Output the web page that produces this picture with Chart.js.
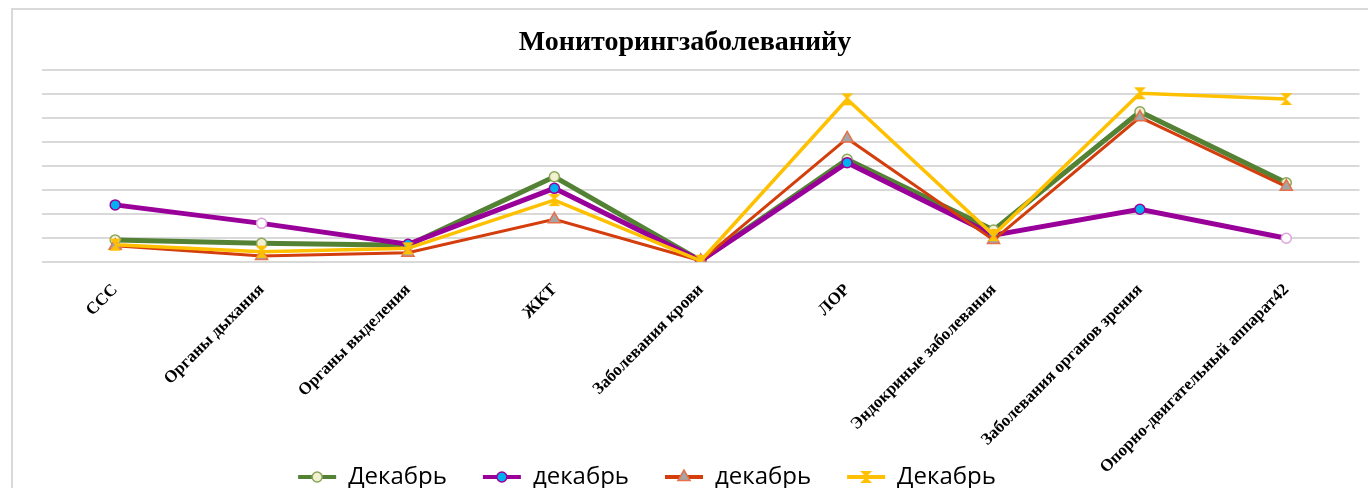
<!DOCTYPE html>
<html>
<head>
<meta charset="utf-8">
<script src="https://cdn.jsdelivr.net/npm/chart.js@4.4.1/dist/chart.umd.min.js"></script>
<style>
    html, body { margin: 0; padding: 0; overflow: hidden; background: #fff; }
    #wrap { position: relative; width: 1368px; height: 488px; overflow: hidden; }
    #frame { position: absolute; left: 11px; top: 8px; width: 1400px; height: 520px;
             border-left: 2px solid #d9d9d9; border-top: 2px solid #d9d9d9; }
    #diseaseChart { position: absolute; left: 0; top: 0; }
</style>
</head>
<body>
<div id="wrap">
    <div id="frame"></div>
    <canvas id="diseaseChart" width="1368" height="562"></canvas>
</div>
<script>
const categories = [
    'ССС', 'Органы дыхания', 'Органы выделения', 'ЖКТ', 'Заболевания крови',
    'ЛОР', 'Эндокриные заболевания', 'Заболевания органов зрения', 'Опорно-двигательный аппарат42'
];

// four series, values (one grid step = 1)
const greenSeries  = [0.92, 0.78, 0.70, 3.55, 0.06, 4.28, 1.33, 6.26, 3.30];
const purpleSeries = [2.38, 1.61, 0.74, 3.07, 0.05, 4.14, 1.12, 2.20, 0.99];
const redSeries    = [0.68, 0.25, 0.39, 1.78, 0.05, 5.15, 0.92, 6.03, 3.14];
const yellowSeries = [0.72, 0.43, 0.57, 2.58, 0.05, 6.78, 1.12, 7.03, 6.79];

const seriesNames = ['Декабрь', 'декабрь', 'декабрь', 'Декабрь'];

// hourglass marker for the yellow series
function makeHourglass(color) {
    const c = document.createElement('canvas');
    c.width = 14;
    c.height = 14;
    const g = c.getContext('2d');
    g.fillStyle = color;
    g.beginPath();
    g.moveTo(1, 1); g.lineTo(13, 1); g.lineTo(7, 7); g.closePath();
    g.moveTo(1, 13); g.lineTo(13, 13); g.lineTo(7, 7); g.closePath();
    g.fill();
    return c;
}
const hourglass = makeHourglass('#ffc000');

// purple points that Excel drew hollow
const purpleFill = purpleSeries.map((v, i) => (i === 1 || i === 8) ? '#ffffff' : '#00b0f0');
const purpleEdge = purpleSeries.map((v, i) => (i === 1 || i === 8) ? '#dba3db' : '#990099');

// moves the legend up over the label area and draws the series marker on each legend line
const legendMarkers = {
    id: 'legendMarkers',
    afterLayout(chart) {
        const legend = chart.legend;
        const h = legend.bottom - legend.top;
        legend.left -= 38;
        legend.right -= 38;
        legend.top = 429;
        legend.bottom = 429 + h;
    },
    afterDraw(chart) {
        const legend = chart.legend;
        if (!legend || !legend.legendHitBoxes) return;
        const ctx = chart.ctx;
        const boxWidth = legend.options.labels.boxWidth;
        const fontSize = legend.options.labels.font.size;
        legend.legendItems.forEach((item, i) => {
            const box = legend.legendHitBoxes[i];
            const ds = chart.data.datasets[item.datasetIndex];
            const x = box.left + boxWidth / 2;
            const y = box.top + fontSize / 2;
            const fill = Array.isArray(ds.pointBackgroundColor) ? ds.pointBackgroundColor[0] : ds.pointBackgroundColor;
            const edge = Array.isArray(ds.pointBorderColor) ? ds.pointBorderColor[0] : ds.pointBorderColor;
            ctx.save();
            ctx.fillStyle = fill;
            ctx.strokeStyle = edge;
            ctx.lineWidth = ds.pointBorderWidth;
            Chart.helpers.drawPoint(ctx, {
                pointStyle: ds.pointStyle,
                radius: ds.pointRadius,
                rotation: 0,
                borderWidth: ds.pointBorderWidth
            }, x, y);
            ctx.restore();
        });
    }
};

function initChart() {
    const ctx = document.getElementById('diseaseChart').getContext('2d');
    new Chart(ctx, {
        type: 'line',
        data: {
            labels: categories,
            datasets: [{
                label: seriesNames[0],
                data: greenSeries,
                borderColor: '#548235',
                backgroundColor: '#548235',
                borderWidth: 5,
                pointStyle: 'circle',
                pointRadius: 5,
                pointBackgroundColor: '#f3f0cf',
                pointBorderColor: '#8aa65a',
                pointBorderWidth: 1.5,
                order: 3
            }, {
                label: seriesNames[1],
                data: purpleSeries,
                borderColor: '#990099',
                backgroundColor: '#990099',
                borderWidth: 5,
                pointStyle: 'circle',
                pointRadius: 5,
                pointBackgroundColor: purpleFill,
                pointBorderColor: purpleEdge,
                pointBorderWidth: 1.5,
                order: 2
            }, {
                label: seriesNames[2],
                data: redSeries,
                borderColor: '#d43d0c',
                backgroundColor: '#d43d0c',
                borderWidth: 3,
                pointStyle: 'triangle',
                pointRadius: 7,
                pointBackgroundColor: '#a5a5a5',
                pointBorderColor: '#e5704a',
                pointBorderWidth: 1.5,
                order: 1
            }, {
                label: seriesNames[3],
                data: yellowSeries,
                borderColor: '#ffc000',
                backgroundColor: '#ffc000',
                borderWidth: 3.5,
                pointStyle: hourglass,
                pointRadius: 7,
                pointBackgroundColor: '#ffc000',
                pointBorderColor: '#ffc000',
                pointBorderWidth: 0,
                order: 0
            }]
        },
        options: {
            responsive: false,
            animation: false,
            layout: { padding: { top: 20, left: 10, right: 8, bottom: 0 } },
            plugins: {
                title: {
                    display: true,
                    text: 'Мониторингзаболеванийу',
                    color: '#000',
                    font: { family: 'Liberation Serif', size: 28, weight: 'bold' },
                    padding: { top: 6, bottom: 10.4 }
                },
                legend: {
                    position: 'bottom',
                    labels: {
                        color: '#000',
                        font: { family: 'Open Sans', size: 24 },
                        boxWidth: 38,
                        boxHeight: 4,
                        padding: 36,
                        sort: (a, b) => a.datasetIndex - b.datasetIndex,
                        generateLabels(chart) {
                            return chart.data.datasets.map((ds, i) => ({
                                text: ds.label,
                                fillStyle: ds.borderColor,
                                strokeStyle: ds.borderColor,
                                lineWidth: 0,
                                fontColor: '#000',
                                datasetIndex: i
                            }));
                        }
                    }
                },
                tooltip: { enabled: false }
            },
            scales: {
                x: {
                    offset: true,
                    grid: { display: false },
                    border: { display: false },
                    ticks: {
                        autoSkip: false,
                        minRotation: 45,
                        maxRotation: 45,
                        padding: 10,
                        color: '#000',
                        font: { family: 'Liberation Serif', size: 17, weight: 'bold' }
                    },
                    afterFit(scale) { scale.height = 230; }
                },
                y: {
                    min: 0,
                    max: 8,
                    ticks: { display: false, stepSize: 1 },
                    grid: { color: '#d9d9d9', lineWidth: 2, drawTicks: false },
                    border: { display: false },
                    afterFit(scale) { scale.width = 32; }
                }
            }
        },
        plugins: [legendMarkers]
    });
}

document.addEventListener('DOMContentLoaded', function() {
    initChart();
});
</script>
</body>
</html>
